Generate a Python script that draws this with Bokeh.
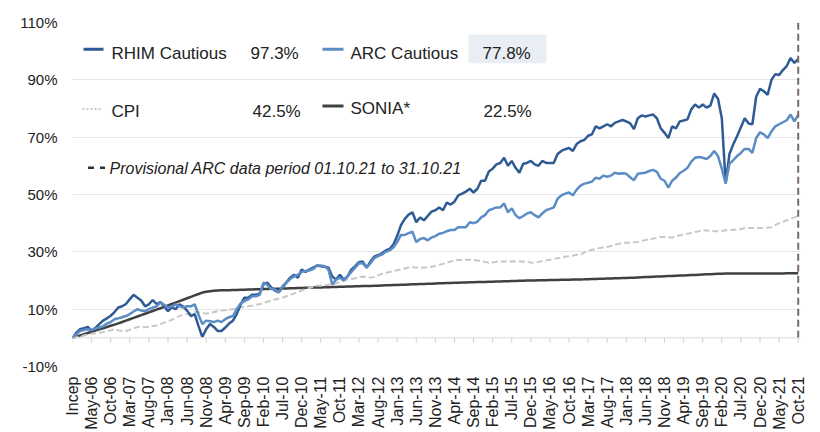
import math
from bokeh.plotting import figure
from bokeh.models import (Range1d, FixedTicker, PrintfTickFormatter, Span, Label,
                          AllLabels)
from bokeh.embed import file_html
from bokeh.resources import INLINE

# ---------------- data (cumulative % return since inception, monthly) -------------
tick_labels = ["Incep", "May-06", "Oct-06", "Mar-07", "Aug-07", "Jan-08", "Jun-08", "Nov-08",
               "Apr-09", "Sep-09", "Feb-10", "Jul-10", "Dec-10", "May-11", "Oct-11", "Mar-12",
               "Aug-12", "Jan-13", "Jun-13", "Nov-13", "Apr-14", "Sep-14", "Feb-15", "Jul-15",
               "Dec-15", "May-16", "Oct-16", "Mar-17", "Aug-17", "Jan-18", "Jun-18", "Nov-18",
               "Apr-19", "Sep-19", "Feb-20", "Jul-20", "Dec-20", "May-21", "Oct-21"]
tick_step = 5

rhim = [0.0, 1.8, 3.0, 3.4, 3.8, 2.4, 3.5, 4.8, 6.0, 6.8,
        7.7, 9.0, 10.6, 11.0, 11.8, 13.5, 15.0, 14.0, 13.0, 11.0,
        11.7, 13.2, 11.8, 12.5, 11.0, 9.3, 10.6, 10.0, 11.7, 10.9,
        9.5, 7.6, 8.3, 4.1, 0.3, 3.0, 4.8, 3.8, 2.4, 2.4,
        3.6, 5.0, 6.0, 8.3, 11.5, 14.0, 14.0, 15.0, 15.0, 15.5,
        18.6, 19.3, 17.6, 16.5, 15.9, 17.6, 19.3, 21.0, 22.0, 21.0,
        23.8, 23.0, 23.8, 24.5, 25.2, 25.0, 24.8, 24.5, 21.4, 20.3,
        22.0, 20.3, 21.4, 23.8, 25.0, 26.4, 26.6, 24.5, 26.6, 28.3,
        28.8, 29.5, 30.5, 31.0, 32.5, 35.5, 39.3, 41.5, 43.0, 43.8,
        40.3, 42.0, 41.0, 42.5, 44.0, 44.5, 45.5, 44.5, 47.2, 46.5,
        47.5, 49.7, 50.3, 51.0, 52.0, 50.7, 52.0, 54.8, 54.8, 58.0,
        59.0, 60.5, 61.0, 62.8, 60.0, 61.7, 59.3, 57.6, 60.7, 61.0,
        61.7, 60.5, 60.0, 61.7, 61.0, 61.0, 61.0, 64.1, 65.2, 65.8,
        66.2, 65.2, 67.6, 68.6, 69.0, 70.5, 71.0, 73.8, 73.1, 73.8,
        74.5, 73.8, 75.0, 75.5, 76.0, 75.5, 74.8, 72.8, 76.6, 77.6,
        77.2, 77.6, 77.9, 76.6, 73.1, 71.5, 69.7, 73.8, 73.1, 75.5,
        75.8, 76.2, 79.7, 81.4, 80.3, 81.4, 80.3, 81.0, 85.2, 83.4,
        76.6, 54.1, 64.1, 67.5, 70.3, 73.5, 76.6, 74.8, 74.5, 84.1,
        86.9, 86.0, 84.8, 90.0, 92.0, 91.7, 93.4, 94.8, 97.6, 95.9, 97.3]

arc = [0.0, 1.2, 2.4, 2.7, 3.0, 2.8, 3.2, 3.6, 4.0, 5.0,
       5.5, 6.5, 6.8, 7.2, 7.6, 8.3, 9.2, 10.0, 9.5, 9.3,
       10.0, 10.5, 11.0, 12.4, 11.5, 10.6, 11.0, 11.7, 11.0, 10.6,
       11.0, 11.0, 11.7, 8.0, 4.8, 6.0, 5.8, 5.5, 6.0, 5.5,
       6.5, 7.2, 7.6, 10.0, 12.0, 12.8, 13.4, 14.5, 14.5, 15.0,
       19.3, 18.5, 17.0, 16.9, 15.9, 18.0, 19.3, 20.5, 21.4, 22.0,
       23.0, 23.3, 23.5, 24.0, 25.2, 25.2, 25.0, 23.8, 18.6, 20.3,
       21.0, 20.0, 21.4, 23.0, 24.5, 26.0, 26.0, 24.5, 26.0, 27.8,
       28.5, 29.0, 30.0, 30.5, 31.5, 33.4, 35.9, 35.9, 36.5, 37.0,
       33.4, 34.5, 34.8, 34.0, 35.0, 35.5, 36.3, 36.6, 37.2, 37.6,
       37.6, 38.6, 38.6, 38.6, 40.3, 40.0, 40.5, 42.0, 42.8, 44.5,
       45.0, 45.5, 45.5, 46.9, 43.8, 45.2, 42.8, 41.7, 42.5, 43.4,
       43.8, 42.8, 42.0, 43.4, 44.5, 45.0, 45.5, 48.5, 49.7, 50.3,
       50.7, 49.7, 51.7, 53.1, 53.8, 54.1, 54.5, 55.9, 55.5, 56.6,
       56.2, 56.6, 57.6, 57.2, 57.4, 57.2, 56.0, 55.0, 57.2, 57.4,
       57.6, 58.2, 58.6, 57.9, 55.5, 54.8, 52.4, 54.8, 55.9, 57.5,
       58.3, 59.3, 61.5, 62.8, 63.1, 62.8, 62.4, 63.4, 65.2, 63.4,
       59.0, 53.8, 60.7, 62.0, 63.4, 64.5, 65.9, 65.9, 64.5, 69.7,
       71.7, 71.0, 69.7, 72.0, 73.8, 74.5, 75.2, 75.9, 77.9, 75.5, 77.8]

cpi = [0.0, 0.2, 0.5, 0.8, 1.1, 1.4, 1.6, 1.8, 2.0, 2.3,
       2.6, 3.0, 2.6, 2.4, 2.4, 2.8, 3.3, 3.8, 3.8, 3.7,
       3.9, 4.1, 4.3, 4.8, 5.3, 5.8, 6.3, 7.0, 7.6, 8.0,
       8.3, 8.6, 9.0, 8.9, 8.6, 8.5, 8.6, 9.0, 9.3, 9.5,
       9.6, 9.8, 10.0, 10.2, 10.6, 11.0, 11.0, 11.2, 11.5, 11.7,
       12.2, 12.6, 13.0, 13.4, 13.7, 14.0, 14.5, 15.0, 15.5, 16.0,
       16.5, 17.0, 17.4, 17.8, 18.3, 18.2, 18.3, 18.5, 18.6, 19.0,
       19.5, 20.0, 20.3, 20.5, 20.8, 21.2, 21.4, 21.2, 21.0, 21.2,
       21.8, 22.3, 22.6, 23.0, 23.3, 23.6, 23.9, 24.2, 24.5, 24.6,
       24.5, 24.4, 24.5, 24.5, 24.8, 25.1, 25.5, 25.8, 26.2, 26.6,
       27.0, 27.2, 27.1, 27.2, 27.2, 27.2, 27.0, 26.8, 26.5, 26.2,
       26.3, 26.5, 26.6, 26.6, 26.6, 26.7, 26.6, 26.6, 26.6, 26.5,
       26.3, 26.2, 26.5, 26.8, 27.0, 27.2, 27.5, 27.8, 28.0, 28.3,
       28.5, 28.7, 29.0, 29.0, 29.8, 30.4, 30.7, 31.0, 31.3, 31.5,
       31.7, 32.0, 32.4, 32.8, 33.1, 33.2, 33.2, 33.3, 33.4, 33.8,
       34.1, 34.4, 34.6, 34.9, 35.2, 35.2, 35.1, 35.0, 35.4, 35.8,
       36.0, 36.3, 36.6, 36.9, 37.2, 37.6, 37.4, 37.3, 37.2, 37.2,
       37.3, 37.5, 37.6, 37.6, 37.8, 38.0, 38.2, 38.3, 38.3, 38.3,
       38.3, 38.3, 38.4, 38.6, 39.3, 40.0, 40.5, 41.0, 41.5, 42.0, 42.5]

sonia = [0.0, 0.42, 0.84, 1.26, 1.68, 2.10, 2.52, 2.94, 3.36, 3.78,
         4.20, 4.62, 5.04, 5.52, 6.00, 6.48, 6.96, 7.44, 7.92, 8.40,
         8.88, 9.36, 9.84, 10.32, 10.80, 11.30, 11.80, 12.30, 12.80, 13.30,
         13.80, 14.30, 14.80, 15.30, 15.78, 16.05, 16.25, 16.40, 16.50, 16.56,
         16.60, 16.64, 16.68, 16.72, 16.76, 16.80, 16.84, 16.88, 16.92, 16.96,
         17.00, 17.04, 17.08, 17.12, 17.16, 17.20, 17.24, 17.28, 17.32, 17.36,
         17.40, 17.44, 17.48, 17.52, 17.56, 17.60, 17.64, 17.68, 17.72, 17.76,
         17.80, 17.84, 17.88, 17.92, 17.96, 18.00, 18.04, 18.08, 18.12, 18.16,
         18.20, 18.25, 18.30, 18.35, 18.40, 18.45, 18.50, 18.55, 18.60, 18.65,
         18.70, 18.75, 18.80, 18.85, 18.90, 18.95, 19.00, 19.05, 19.10, 19.15,
         19.20, 19.24, 19.28, 19.32, 19.36, 19.40, 19.44, 19.48, 19.52, 19.56,
         19.60, 19.64, 19.68, 19.72, 19.76, 19.80, 19.84, 19.88, 19.92, 19.96,
         20.00, 20.03, 20.06, 20.09, 20.12, 20.15, 20.18, 20.21, 20.24, 20.27,
         20.30, 20.33, 20.36, 20.39, 20.42, 20.46, 20.50, 20.54, 20.58, 20.62,
         20.66, 20.70, 20.75, 20.80, 20.85, 20.90, 20.95, 21.00, 21.06, 21.12,
         21.18, 21.24, 21.30, 21.36, 21.42, 21.48, 21.54, 21.60, 21.66, 21.72,
         21.78, 21.84, 21.90, 21.96, 22.02, 22.08, 22.14, 22.20, 22.26, 22.32,
         22.38, 22.42, 22.43, 22.44, 22.44, 22.45, 22.45, 22.45, 22.46, 22.46,
         22.46, 22.47, 22.47, 22.47, 22.48, 22.48, 22.48, 22.49, 22.49, 22.50, 22.50]

legend_names = ["RHIM Cautious", "ARC Cautious", "CPI", "SONIA*"]
legend_values = ["97.3%", "77.8%", "42.5%", "22.5%"]
note_text = "Provisional ARC data period 01.10.21 to 31.10.21"
y_ticks = [-10, 10, 30, 50, 70, 90, 110]

assert len(rhim) == len(arc) == len(cpi) == len(sonia) == 191

# ---------------- layout constants (screen pixels of the photographed page) -------
MARGIN = 0
W, H = 820, 432
FRAME_L, FRAME_R, FRAME_T, FRAME_B = 72, 800, 22, 368
X0, X1, Y0, Y1 = 0, 190.6, -10, 110
FONT = "Liberation Sans"
TXT = "#222222"
C_RHIM, C_ARC, C_CPI, C_SONIA = "#2F5B95", "#5B8DC4", "#C8C8C8", "#404040"
TEXT_SHIFT = -4   # baseline correction for Label placement


def px_x(px):
    return X0 + (px - FRAME_L) / (FRAME_R - FRAME_L) * (X1 - X0)


def px_y(py):
    return Y1 - (py - FRAME_T) / (FRAME_B - FRAME_T) * (Y1 - Y0)


n = len(rhim)
xs = list(range(n))

p = figure(width=W, height=H, output_backend="svg", toolbar_location=None,
           x_range=Range1d(X0, X1), y_range=Range1d(Y0, Y1),
           min_border_left=FRAME_L - MARGIN, min_border_right=MARGIN + W - FRAME_R,
           min_border_top=FRAME_T - MARGIN, min_border_bottom=MARGIN + H - FRAME_B)
p.outline_line_color = None
p.background_fill_color = "white"
p.border_fill_color = "white"

# axes
tick_pos = [i * tick_step for i in range(len(tick_labels))]
xa = p.xaxis[0]
xa.ticker = FixedTicker(ticks=tick_pos)
xa.major_label_overrides = {t: lab for t, lab in zip(tick_pos, tick_labels)}
xa.major_label_orientation = math.pi / 2
xa.major_label_policy = AllLabels()
xa.axis_line_color = None
xa.major_tick_line_color = None
xa.minor_tick_line_color = None
xa.major_tick_out = 0
xa.major_tick_in = 0
xa.major_label_standoff = 10
xa.major_label_text_font = FONT
xa.major_label_text_font_size = "16px"
xa.major_label_text_color = TXT

ya = p.yaxis[0]
ya.ticker = FixedTicker(ticks=y_ticks)
ya.formatter = PrintfTickFormatter(format="%d%%")
ya.axis_line_color = None
ya.major_tick_line_color = None
ya.minor_tick_line_color = None
ya.major_tick_out = 0
ya.major_tick_in = 0
ya.major_label_standoff = 15
ya.major_label_text_font = FONT
ya.major_label_text_font_size = "15px"
ya.major_label_text_color = TXT

p.xgrid.visible = False
p.ygrid[0].ticker = FixedTicker(ticks=y_ticks)
p.ygrid.grid_line_color = "#E6E6E6"
p.ygrid.grid_line_width = 1

# zero axis line with tick marks
p.add_layout(Span(location=0, dimension="width", line_color="#D9D9D9", line_width=1))
tick_len = 5 * (Y1 - Y0) / (FRAME_B - FRAME_T)
p.segment(x0=tick_pos, y0=[0] * len(tick_pos), x1=tick_pos, y1=[-tick_len] * len(tick_pos),
          line_color="#D0D0D0", line_width=1)

# series
p.line(xs, sonia, line_color=C_SONIA, line_width=2.5)
p.line(xs, cpi, line_color=C_CPI, line_width=2, line_dash="6 3")
p.line(xs, rhim, line_color=C_RHIM, line_width=2.5)
p.line(xs, arc, line_color=C_ARC, line_width=2.5)

# provisional data marker (vertical dashed line at the last month)
last = xs[-1]
p.segment(x0=[last], y0=[0], x1=[last], y1=[Y1], line_color="#7A6A6A",
          line_width=2, line_dash="7 4")

# ---------------- in-plot legend ----------------
p.quad(left=[px_x(468)], right=[px_x(546)], top=[px_y(34)], bottom=[px_y(63)],
       fill_color="#E9EDF4", line_color=None)

p.segment(x0=[px_x(83)], y0=[px_y(49)], x1=[px_x(103)], y1=[px_y(49)],
          line_color=C_RHIM, line_width=3)
p.segment(x0=[px_x(322)], y0=[px_y(49)], x1=[px_x(343)], y1=[px_y(49)],
          line_color=C_ARC, line_width=3)
p.segment(x0=[px_x(82)], y0=[px_y(109)], x1=[px_x(102)], y1=[px_y(109)],
          line_color=C_CPI, line_width=2, line_dash="2 2")
p.segment(x0=[px_x(322)], y0=[px_y(106)], x1=[px_x(343)], y1=[px_y(106)],
          line_color=C_SONIA, line_width=3)
p.segment(x0=[px_x(87.5)], y0=[px_y(168)], x1=[px_x(104.5)], y1=[px_y(168)],
          line_color="#333333", line_width=2.5, line_dash="6 6")


def add_text(txt, px, py, size="17px", style="normal"):
    p.add_layout(Label(x=px_x(px), y=px_y(py + TEXT_SHIFT), text=txt, text_font=FONT,
                       text_font_size=size, text_color=TXT, text_font_style=style,
                       text_align="left", text_baseline="alphabetic"))


add_text(legend_names[0], 111, 56.7)
add_text(legend_values[0], 250, 56.7)
add_text(legend_names[1], 350, 56.7)
add_text(legend_values[1], 482, 57.0)
add_text(legend_names[2], 111, 115.6)
add_text(legend_values[2], 252, 115.3)
add_text(legend_names[3], 350, 112.2)
add_text(legend_values[3], 483, 115.6)
add_text(note_text, 109, 173.2, size="16px", style="italic")

open("out.html", "w").write(file_html(p, INLINE))
